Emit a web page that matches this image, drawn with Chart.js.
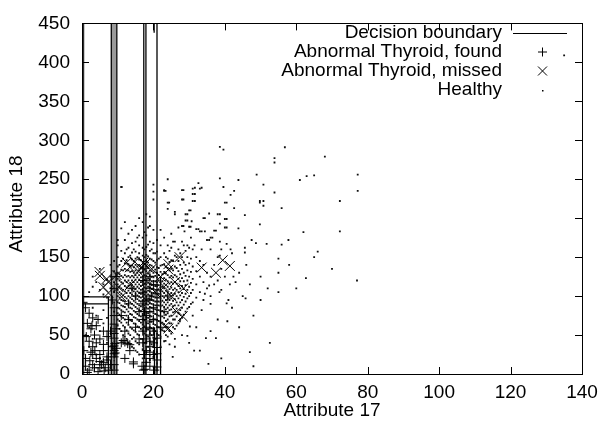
<!DOCTYPE html>
<html>
<head>
<meta charset="utf-8">
<script src="https://cdn.jsdelivr.net/npm/chart.js@4.4.0/dist/chart.umd.min.js"></script>
<style>
  body { margin: 0; background: #fff; }
  canvas { display: block; }
</style>
</head>
<body>
<canvas id="chart" width="605" height="430"></canvas>
<script>
const xTicks = [0, 20, 40, 60, 80, 100, 120, 140];
const yTicks = [0, 50, 100, 150, 200, 250, 300, 350, 400, 450];
const legendLabels = ['Decision boundary', 'Abnormal Thyroid, found', 'Abnormal Thyroid, missed', 'Healthy'];

// decision boundary segments: [x1, y1, x2, y2]
const boundary = [
  [0.3, 0, 0.3, 450],
  [8.2, 0, 8.2, 450],
  [9.75, 0, 9.75, 450],
  [17.3, 0, 17.3, 450],
  [17.9, 0, 17.9, 450],
  [21, 0, 21, 450],
  [20.2, 438, 20.2, 450],
  [0, 99, 7.8, 99],
  [0, 90, 7.4, 90],
  [7.4, 0, 7.4, 99],
  [22, 0, 22, 125],
  [20.3, 0, 20.3, 60]
];
// shaded strips between close boundaries: [xFrom, xTo]
const shaded = [[0.3, 0.7], [8.3, 9.6]];

const found = [
  [0.3, 92], [1, 85], [2, 78], [3, 72], [1.5, 65], [2.5, 58], [4, 62], [3.5, 50], [2, 42], [3, 35],
  [3.6, 30], [2.2, 17], [1, 10], [2, 5], [3, 12], [4, 20], [5, 25], [6, 30], [5, 8], [6, 15],
  [7, 22], [7.5, 5], [8, 12], [4.5, 3], [1.5, 2], [3, 25], [4, 40], [5, 45], [6, 38], [7, 48],
  [8, 55], [9, 46], [9, 64], [9, 75], [9, 85], [9, 30], [9, 22], [9, 12], [9, 5], [8.5, 35],
  [9.5, 58], [8.5, 95], [9, 110], [9.5, 125], [0.5, 30], [1, 20], [2.5, 28], [6.5, 8], [7, 18], [5.5, 12],
  [9.2, 39], [9.6, 33], [9.3, 27], [3.5, 8], [5, 16], [6.2, 4], [2.8, 62], [4.5, 70], [1.2, 48], [6, 55],
  [9, 26], [9, 36], [9, 52],
  [13.4, 37.6], [14.4, 13], [13.4, 30], [14.4, 15.5], [17.6, 6], [20.4, 5], [17.2, 5], [16.8, 10],
  [12, 41], [12.8, 39], [11.5, 43],
  [19, 10], [19, 20], [19, 28], [19, 35], [19, 42], [19, 50], [19, 58], [19, 68], [19, 80], [19, 95],
  [19, 110], [19, 125], [21, 9], [21, 18], [21, 26], [21, 34], [21, 46],
  [17, 40], [17, 55], [17, 70], [17, 90], [17, 105], [17, 120], [17, 135], [17.5, 25], [18, 15],
  [18, 30], [18, 45], [18, 60], [20, 25], [20, 40], [20, 55], [20, 70], [17.5, 80], [19.5, 100],
  [15, 60], [16, 80], [18, 95], [20, 115], [22, 60], [23, 80], [24, 100], [12, 55], [11, 75], [13, 90],
  [14, 110], [11, 40], [12, 20], [16, 45], [18, 75], [20, 85], [15, 100], [13, 70]
];

const missed = [
  [4.9, 131], [5, 126], [6, 111.5], [6.9, 122], [7.4, 104], [7.4, 118], [9.7, 127], [10.2, 111.5],
  [11.1, 99], [12.5, 143], [13.4, 114], [13.4, 137], [14.8, 144], [15.8, 132], [17.2, 143], [17.6, 141],
  [18.5, 120], [19.5, 135], [20.5, 105], [22, 125], [23, 112], [23.2, 61], [24.2, 141], [24.2, 134],
  [24.2, 58.5], [25, 100], [26, 118], [26.5, 80], [27.3, 150], [28.2, 74], [28.4, 110],
  [33.5, 136.6], [37.5, 130], [39.4, 146], [41.4, 138.7]
];

// healthy records in the dense part, one column per attribute 17 value
const healthyCols = [
  [10, [62, 70, 78, 85, 92, 100, 108, 115, 122, 130, 138, 150, 165, 172]],
  [10.5, [58, 68, 76, 84, 91, 98, 105, 112, 120, 128, 140]],
  [11, [55, 66, 74, 82, 88, 95, 103, 110, 118, 126, 134, 145, 158, 187, 240]],
  [11.5, [50, 62, 72, 80, 87, 94, 101, 108, 116, 124, 133, 148]],
  [12, [48, 60, 70, 79, 86, 93, 99, 106, 113, 120, 127, 135, 142, 155, 172, 195]],
  [12.5, [45, 56, 66, 75, 83, 90, 97, 104, 111, 118, 125, 133, 146, 160]],
  [13, [40, 52, 63, 72, 80, 88, 94, 100, 107, 113, 120, 126, 133, 141, 150, 162, 180]],
  [13.5, [38, 50, 60, 69, 77, 85, 92, 98, 104, 110, 117, 124, 131, 139, 152]],
  [14, [35, 45, 58, 68, 76, 84, 90, 96, 102, 108, 114, 120, 126, 132, 139, 147, 156, 168, 185]],
  [14.5, [33, 47, 56, 65, 73, 81, 88, 94, 100, 106, 112, 118, 124, 130, 137, 145, 160]],
  [15, [30, 42, 54, 64, 72, 79, 86, 92, 98, 103, 109, 115, 121, 127, 133, 140, 148, 157, 170, 190]],
  [15.5, [28, 40, 51, 61, 70, 77, 84, 90, 96, 101, 106, 112, 118, 124, 130, 138, 150, 175]],
  [16, [25, 38, 50, 60, 68, 75, 82, 88, 94, 99, 104, 110, 115, 121, 127, 133, 140, 147, 155, 165, 178, 200]],
  [16.5, [45, 58, 66, 74, 81, 87, 93, 98, 103, 108, 113, 118, 124, 130, 137, 146]],
  [17, [20, 32, 45, 55, 63, 70, 77, 83, 89, 94, 99, 104, 109, 114, 119, 125, 131, 137, 144, 152, 162, 175, 195]],
  [17.5, [40, 52, 61, 69, 76, 82, 88, 93, 97, 102, 106, 111, 116, 121, 127, 134, 141, 150, 160, 182]],
  [18, [15, 28, 40, 50, 58, 66, 73, 79, 85, 90, 95, 100, 105, 110, 115, 120, 126, 132, 138, 145, 153, 163, 178, 205]],
  [18.5, [35, 48, 57, 65, 72, 78, 84, 89, 93, 97, 102, 107, 112, 117, 123, 129, 136, 143, 151, 166, 188]],
  [19, [18, 30, 42, 52, 60, 67, 74, 80, 86, 91, 96, 101, 106, 111, 116, 121, 127, 133, 140, 148, 158, 170, 190, 202]],
  [19.5, [38, 50, 59, 67, 74, 80, 85, 90, 95, 100, 104, 109, 114, 119, 125, 132, 139, 147, 160]],
  [20, [22, 35, 47, 56, 64, 71, 78, 84, 89, 94, 99, 104, 109, 114, 119, 124, 130, 137, 145, 155, 168, 185, 224, 234, 243]],
  [20.5, [45, 55, 63, 70, 77, 83, 88, 93, 98, 103, 108, 113, 119, 126, 134, 143, 155]],
  [21, [28, 40, 52, 61, 69, 76, 82, 88, 93, 98, 103, 108, 113, 118, 124, 130, 137, 146, 157, 172]],
  [21.5, [50, 60, 68, 75, 82, 88, 93, 98, 103, 108, 114, 120, 127, 136, 148]],
  [22, [35, 48, 58, 66, 74, 81, 87, 92, 97, 102, 107, 112, 118, 124, 131, 139, 150, 165, 185]],
  [22.5, [56, 66, 74, 81, 88, 94, 100, 106, 112, 119, 128, 140]],
  [23, [42, 55, 64, 72, 79, 86, 92, 98, 104, 110, 116, 123, 131, 141, 155, 175, 235, 236]],
  [23.5, [50, 60, 68, 76, 83, 89, 95, 101, 107, 114, 121, 129, 138, 150]],
  [24, [48, 60, 70, 78, 85, 92, 98, 105, 112, 119, 127, 136, 148, 165, 212, 220, 250]],
  [24.5, [55, 65, 74, 82, 88, 95, 102, 109, 116, 124, 133, 144, 158]],
  [25, [52, 65, 75, 83, 90, 97, 104, 111, 118, 126, 135, 146, 162, 180]],
  [25.5, [60, 70, 79, 87, 94, 101, 108, 116, 124, 133, 145, 170]],
  [26, [58, 70, 80, 88, 96, 103, 110, 118, 127, 138, 152, 170, 205, 208]],
  [26.5, [62, 74, 84, 92, 100, 108, 116, 125, 136, 150]],
  [27, [65, 78, 88, 97, 105, 113, 122, 132, 145, 160, 188]],
  [27.5, [70, 82, 92, 101, 110, 119, 128, 140, 155]],
  [28, [72, 85, 95, 104, 113, 123, 135, 150, 170, 190, 224, 236]],
  [28.5, [76, 89, 99, 109, 119, 130, 143, 165]],
  [29, [80, 93, 103, 114, 126, 140, 158, 197, 205]],
  [29.5, [84, 97, 108, 120, 133, 150]],
  [30, [86, 100, 112, 125, 142, 162, 189, 210]],
  [30.5, [90, 104, 117, 131, 148, 175]],
  [31, [92, 108, 122, 138, 160, 222, 231, 238]],
  [32, [98, 115, 132, 150, 186]],
  [33, [105, 125, 145, 183, 238]],
  [34, [95, 118, 140, 200]],
  [35, [110, 130, 172]],
  [36, [100, 125, 160, 175]],
  [37, [115, 140, 184]],
  [38, [120, 150, 205]],
  [39, [108, 135, 160]],
  [40, [125, 188, 199, 220]]
];

// scattered healthy records away from the dense part
const healthySparse = [
  [2, 105], [3, 112], [4, 118], [5, 108], [6, 115], [7, 121], [3, 125], [5, 135], [6, 102], [7, 98],
  [8, 110], [8, 125], [8, 140], [2, 60], [3, 45], [4, 75], [5, 55], [6, 65], [7, 40], [2, 35],
  [4, 25], [6, 82], [7, 72], [3, 85], [1, 50], [5, 20], [9, 118], [9, 132], [9, 145], [9, 105],
  [9, 92], [9, 80], [11.1, 240], [24.4, 220], [23.4, 235],
  [38.6, 291.5], [39.6, 288], [56.8, 291], [53.9, 277], [53.9, 271.5], [68, 279], [38.6, 251], [43.8, 249],
  [48.9, 256], [61, 249], [62.9, 254], [65, 255], [77.2, 256], [77.2, 235], [50.8, 243], [39.6, 240],
  [32.6, 245], [31.6, 239], [33.5, 239], [28.4, 236], [42.6, 235], [41.6, 230], [53.9, 233], [31.6, 231],
  [28.4, 224], [31.6, 222], [72.2, 222], [49.8, 222], [50.8, 222], [49.8, 220], [40.5, 220], [50.8, 216],
  [55.9, 213], [42.6, 213], [30.4, 210], [45.6, 204], [29.5, 205], [35.6, 206], [38.6, 205], [34.4, 200],
  [40.5, 199], [29.5, 197], [30.7, 196], [49.8, 192], [38.6, 193], [28.4, 190], [30.4, 189], [40.5, 188],
  [43.8, 187], [32.6, 186], [33.5, 183], [34.4, 183], [37.5, 184], [62, 182], [72.2, 183], [28.7, 183],
  [36.5, 175], [35.6, 172], [47.5, 172], [48.7, 168], [51.7, 167], [57.8, 172], [55.9, 166], [45.6, 162],
  [45.6, 156], [29.5, 165], [31.5, 165], [33.5, 160], [38.6, 170], [38.6, 152], [40.5, 167], [42, 155],
  [41.6, 160], [55, 148], [135, 409],
  [30, 40], [34.7, 46], [33, 30], [36, 55], [47, 28], [52.6, 40], [44, 60], [48, 75], [42, 85], [50, 95],
  [55, 105], [62.7, 123], [77, 120], [60, 110], [45, 100], [38, 70], [32, 60], [28, 50], [26, 35], [39, 20],
  [48, 10], [55, 130], [58, 140], [65, 150], [70, 135], [66, 157], [50, 125], [46, 140], [43, 118], [41, 95],
  [35.4, 13], [25.4, 22], [31.4, 30], [37.5, 46], [23.4, 42.6], [29.5, 49], [40.7, 67.7], [45.8, 97],
  [40.5, 90.6], [34.4, 103], [41.4, 115], [42.4, 125], [35.6, 113.6], [33.5, 82], [30.2, 61], [27.4, 67.7],
  [26, 45], [24.5, 38], [31, 75], [36, 90], [38.5, 105], [44, 130], [47, 115], [52, 110]
];

const healthy = [];
healthyCols.forEach(([x, ys]) => ys.forEach(y => healthy.push([x, y])));
healthySparse.forEach(p => healthy.push(p));

const toPts = arr => arr.map(([x, y]) => ({ x, y }));
const boundaryPts = [];
boundary.forEach(([x1, y1, x2, y2]) => {
  boundaryPts.push({ x: x1, y: y1 }, { x: x2, y: y2 }, { x: x2, y: null });
});

const FONT = '19px "Liberation Sans", Arial, sans-serif';

const framePlugin = {
  id: 'frame',
  beforeDatasetsDraw(chart) {
    const ctx = chart.ctx;
    const xs = chart.scales.x, ys = chart.scales.y;
    ctx.save();
    ctx.fillStyle = '#9a9a9a';
    shaded.forEach(([a, b]) => {
      const x1 = xs.getPixelForValue(a), x2 = xs.getPixelForValue(b);
      ctx.fillRect(x1, ys.getPixelForValue(450), x2 - x1, ys.getPixelForValue(0) - ys.getPixelForValue(450));
    });
    ctx.restore();
  },
  afterDatasetsDraw(chart) {
    const ctx = chart.ctx;
    const { left, right, top, bottom } = chart.chartArea;
    const xs = chart.scales.x, ys = chart.scales.y;
    ctx.save();
    ctx.strokeStyle = '#000';
    ctx.lineWidth = 1;
    ctx.beginPath();
    xTicks.forEach(v => {
      const p = Math.round(xs.getPixelForValue(v)) + 0.5;
      ctx.moveTo(p, bottom); ctx.lineTo(p, bottom - 7);
      ctx.moveTo(p, top); ctx.lineTo(p, top + 7);
    });
    yTicks.forEach(v => {
      const p = Math.round(ys.getPixelForValue(v)) + 0.5;
      ctx.moveTo(left, p); ctx.lineTo(left + 7, p);
      ctx.moveTo(right, p); ctx.lineTo(right - 7, p);
    });
    ctx.stroke();
    ctx.strokeRect(Math.round(left) + 0.5, Math.round(top) + 0.5, Math.round(right - left), Math.round(bottom - top));

    // axis titles
    ctx.fillStyle = '#000';
    ctx.font = FONT;
    ctx.textAlign = 'center';
    ctx.textBaseline = 'middle';
    ctx.fillText('Attribute 17', (left + right) / 2, 411);
    ctx.save();
    ctx.translate(17, 204);
    ctx.rotate(-Math.PI / 2);
    ctx.fillText('Attribute 18', 0, 0);
    ctx.restore();

    // key
    const rows = [33, 52, 71, 90];
    ctx.textAlign = 'right';
    legendLabels.forEach((t, i) => ctx.fillText(t, 502, rows[i]));
    ctx.beginPath();
    ctx.moveTo(513, rows[0] + 0.5); ctx.lineTo(567, rows[0] + 0.5);
    ctx.moveTo(538, rows[1]); ctx.lineTo(547, rows[1]);
    ctx.moveTo(542.5, rows[1] - 4.5); ctx.lineTo(542.5, rows[1] + 4.5);
    ctx.moveTo(538, rows[2] - 4.5); ctx.lineTo(547, rows[2] + 4.5);
    ctx.moveTo(538, rows[2] + 4.5); ctx.lineTo(547, rows[2] - 4.5);
    ctx.stroke();
    ctx.fillRect(542, rows[3], 1.5, 1.5);
    ctx.restore();
  }
};

new Chart(document.getElementById('chart'), {
  type: 'scatter',
  data: {
    datasets: [
      {
        label: legendLabels[0],
        data: boundaryPts,
        showLine: true,
        spanGaps: false,
        borderColor: '#000',
        borderWidth: 1.3,
        pointRadius: 0,
        order: 4
      },
      {
        label: legendLabels[3],
        data: toPts(healthy),
        pointStyle: 'rect',
        pointRadius: 1.3,
        backgroundColor: '#111',
        borderWidth: 0,
        order: 3
      },
      {
        label: legendLabels[1],
        data: toPts(found),
        pointStyle: 'cross',
        pointRadius: 4.5,
        borderColor: '#000',
        borderWidth: 1,
        order: 2
      },
      {
        label: legendLabels[2],
        data: toPts(missed),
        pointStyle: 'crossRot',
        pointRadius: 7,
        borderColor: '#000',
        borderWidth: 1,
        order: 1
      }
    ]
  },
  options: {
    responsive: false,
    animation: false,
    layout: { padding: { left: 0, top: 15, right: 23, bottom: 0 } },
    plugins: { legend: { display: false }, tooltip: { enabled: false } },
    elements: { point: { hoverRadius: 0 } },
    scales: {
      x: {
        type: 'linear',
        min: 0, max: 140,
        afterFit: s => { s.height = 56; },
        grid: { display: false, drawTicks: false },
        border: { display: false },
        ticks: { stepSize: 20, color: '#000', font: { family: '"Liberation Sans", Arial, sans-serif', size: 19 }, padding: 7, maxRotation: 0 }
      },
      y: {
        type: 'linear',
        min: 0, max: 450,
        afterFit: s => { s.width = 82; },
        grid: { display: false, drawTicks: false },
        border: { display: false },
        ticks: { stepSize: 50, color: '#000', font: { family: '"Liberation Sans", Arial, sans-serif', size: 19 }, padding: 12 }
      }
    }
  },
  plugins: [framePlugin]
});
</script>
</body>
</html>
